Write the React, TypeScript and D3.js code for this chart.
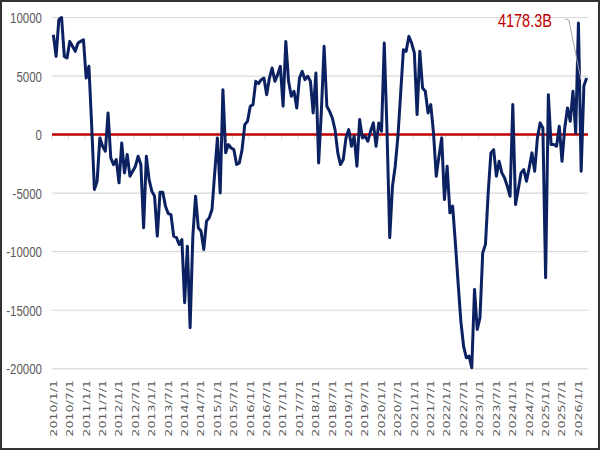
import React from 'react';
import * as d3 from 'd3';

// monthly values, 2010/1 .. 2026/4
const startYear = 2010;
const values = [
  8530, 6680, 9810, 10000, 6680, 6540, 7960, 7540, 7110, 7820,
  7960, 8100, 4830, 5830, 800, -4690, -3980, -280, -1000, -1420,
  1850, -2000, -2560, -2130, -4120, -710, -3270, -1700, -3550, -3130,
  -2700, -1850, -2560, -7960, -1850, -3840, -4830, -5260, -8670, -4920,
  -4920, -6110, -6740, -6830, -8670, -8790, -9390, -8960, -14360, -9530,
  -16500, -8670, -5260, -7960, -8250, -9810, -7390, -7110, -6400, -3270,
  -280, -4980, 3840, -1560, -850, -1140, -1280, -2560, -2420, -1280,
  850, 1140, 2420, 2560, 4550, 4350, 4690, 4830, 3410, 4830,
  5690, 4550, 5120, 5830, 2420, 7960, 4550, 3270, 3700, 2280,
  4830, 5400, 4690, 4980, 4550, 1850, 5260, -2420, 2000, 7540,
  2420, 1990, 1420, 430, -1560, -2560, -2130, -280, 430, -1000,
  -140, -2700, 1280, -280, -140, -570, 300, 1000, -1000, 1000,
  280, 7820, 300, -8800, -4410, -2700, -140, 3550, 7250, 7110,
  8390, 7820, 6970, 1710, 7110, 3980, 3700, 1850, 2560, 140,
  -3550, -1850, -280, -5550, -2700, -6680, -6110, -9240, -12660, -15930,
  -18060, -19050, -18910, -19910, -13220, -16640, -15640, -10100, -9390, -4980,
  -1560, -1280, -3550, -2280, -3270, -3700, -4410, -5260, 2560, -5970,
  -4690, -3270, -2990, -3980, -2840, -1560, -3130, -280, 1000, 570,
  -12230, 3410, -850, -850, -1000, 710, -2280, 570, 2280, 1140,
  3700, 140, 9530, -3130, 4178.3, 4830,
];
const dates = values.map((_, i) => `${startYear + Math.floor(i / 12)}/${(i % 12) + 1}/1`);
const yTicks = [10000, 5000, 0, -5000, -10000, -15000, -20000];
const labelEvery = 6;
const annotIndex = 194;
const annotText = '4178.3B';

const W = 600;
const H = 450;
const left = 52;
const right = 588;
const top = 17.5;
const bottom = 368.8;

const x = d3.scaleBand<string>().domain(dates).range([left, right]);
const cx = (i: number) => (x(dates[i]) as number) + x.bandwidth() / 2;
const y = d3.scaleLinear().domain([-20000, 10000]).range([bottom, top]);

const line = d3.line<number>()
  .x((_, i) => cx(i))
  .y(d => y(d));

export default function App() {
  const labelIdx = dates.map((_, i) => i).filter(i => i % labelEvery === 0);
  const ax = cx(annotIndex);
  const ay = y(values[annotIndex]);
  return (
    <svg width={W} height={H} style={{ position: 'absolute', left: 0, top: 0, background: '#fff' }}>
      <rect x={1} y={1} width={W - 2} height={H - 2} fill="#fff" stroke="#333" strokeWidth={2} />
      {yTicks.map(t => (
        <g key={t}>
          <line x1={left} x2={right} y1={y(t)} y2={y(t)} stroke="#d9d9d9" strokeWidth={1.2} />
          <text
            transform={`translate(42,${y(t)}) scale(1,1.35)`}
            dy="0.36em"
            textAnchor="end"
            fontFamily="Liberation Sans, Arial, sans-serif"
            fontSize={11.5}
            fill="#595959"
          >
            {t}
          </text>
        </g>
      ))}
      {labelIdx.map(i => (
        <line
          key={'t' + i}
          x1={x(dates[i]) as number}
          x2={x(dates[i]) as number}
          y1={y(0)}
          y2={y(0) + 5}
          stroke="#d9d9d9"
        />
      ))}
      <line x1={left} x2={right} y1={y(0)} y2={y(0)} stroke="#c00000" strokeWidth={2.5} />
      <path d={line(values) as string} fill="none" stroke="#0c2161" strokeWidth={3} strokeLinejoin="round" />
      {labelIdx.map(i => (
        <text
          key={'l' + i}
          transform={`translate(${cx(i)},380) scale(1,1.33) rotate(-90)`}
          dy="0.35em"
          textAnchor="end"
          fontFamily="DejaVu Sans, Verdana, sans-serif"
          fontSize={9.5}
          fill="#595959"
        >
          {dates[i]}
        </text>
      ))}
      <polyline
        points={`${ax - 19},19 ${ax - 15},20 ${ax - 3},${ay - 6}`}
        fill="none"
        stroke="#a6a6a6"
        strokeWidth={1}
      />
      <text
        transform={`translate(${ax - 32},26.5) scale(1,1.3)`}
        textAnchor="end"
        fontFamily="Liberation Sans, Arial, sans-serif"
        fontSize={14.5}
        fill="#c00000"
      >
        {annotText}
      </text>
    </svg>
  );
}
